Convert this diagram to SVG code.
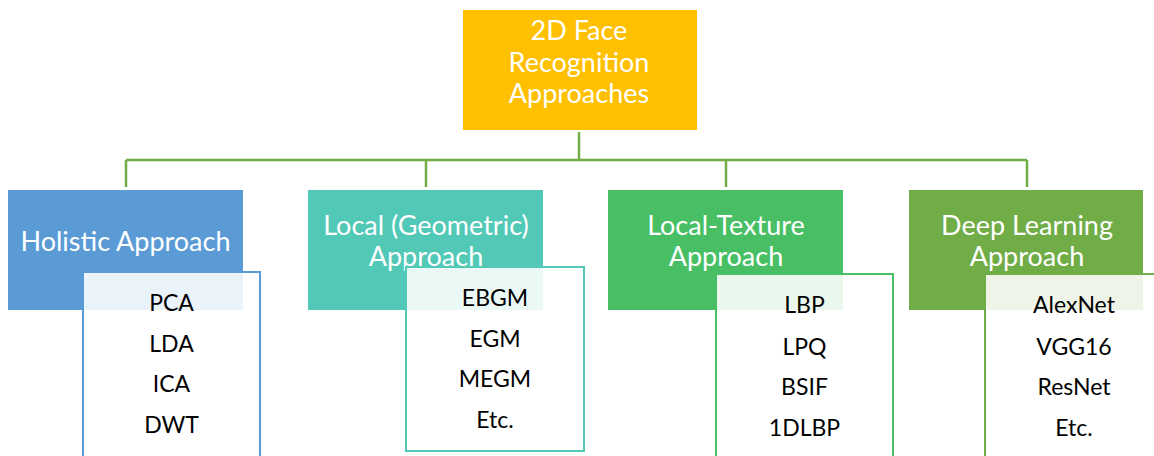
<svg xmlns="http://www.w3.org/2000/svg" width="1154" height="456" viewBox="0 0 1154 456">
<style>
.title{font-family:Lato,"Liberation Sans",sans-serif;font-size:27px;fill:#ffffff;text-anchor:middle}
.item{font-family:Lato,"Liberation Sans",sans-serif;font-size:23px;fill:#000000;text-anchor:middle}
.child{fill:#ffffff;fill-opacity:0.88;stroke-width:2}
.conn{fill:none;stroke:#70AD47;stroke-width:2.5}
</style>
<rect width="1154" height="456" fill="#ffffff"/>
<g id="connectors">
<path class="conn" d="M579,132 V160 M126,160 H1027 M126,160 V187 M426,160 V187 M726,160 V187 M1027,160 V187"/>
</g>
<g id="root">
<rect x="463" y="10" width="234" height="120" fill="#FFC000"/>
<text class="title" x="579" y="40">2D Face</text>
<text class="title" x="579" y="72">Recognition</text>
<text class="title" x="579" y="103">Approaches</text>
</g>
<g id="holistic">
<rect x="8" y="190" width="235" height="120" fill="#5B9BD5"/>
<text class="title" x="125.5" y="251">Holistic Approach</text>
<rect class="child" x="83" y="272" width="177" height="200" stroke="#5B9BD5"/>
<text class="item" x="171.5" y="311">PCA</text>
<text class="item" x="171.5" y="352">LDA</text>
<text class="item" x="171.5" y="392">ICA</text>
<text class="item" x="171.5" y="433">DWT</text>
</g>
<g id="local-geometric">
<rect x="308" y="190" width="235" height="120" fill="#52C9B7"/>
<text class="title" x="426" y="235">Local (Geometric)</text>
<text class="title" x="426" y="266">Approach</text>
<rect class="child" x="406" y="267" width="178" height="184" stroke="#52C9B7"/>
<text class="item" x="495" y="306">EBGM</text>
<text class="item" x="495" y="347">EGM</text>
<text class="item" x="495" y="387">MEGM</text>
<text class="item" x="495" y="428">Etc.</text>
</g>
<g id="local-texture">
<rect x="608" y="190" width="235" height="120" fill="#48BF65"/>
<text class="title" x="726" y="235">Local-Texture</text>
<text class="title" x="726" y="266">Approach</text>
<rect class="child" x="716" y="274" width="177" height="200" stroke="#48BF65"/>
<text class="item" x="804.5" y="313">LBP</text>
<text class="item" x="804.5" y="355">LPQ</text>
<text class="item" x="804.5" y="395">BSIF</text>
<text class="item" x="804.5" y="436">1DLBP</text>
</g>
<g id="deep-learning">
<rect x="909" y="190" width="234" height="120" fill="#70AD47"/>
<text class="title" x="1027" y="235">Deep Learning</text>
<text class="title" x="1027" y="266">Approach</text>
<rect class="child" x="985" y="274" width="178" height="200" stroke="#70AD47"/>
<text class="item" x="1074" y="313">AlexNet</text>
<text class="item" x="1074" y="355">VGG16</text>
<text class="item" x="1074" y="395">ResNet</text>
<text class="item" x="1074" y="436">Etc.</text>
</g>
</svg>
